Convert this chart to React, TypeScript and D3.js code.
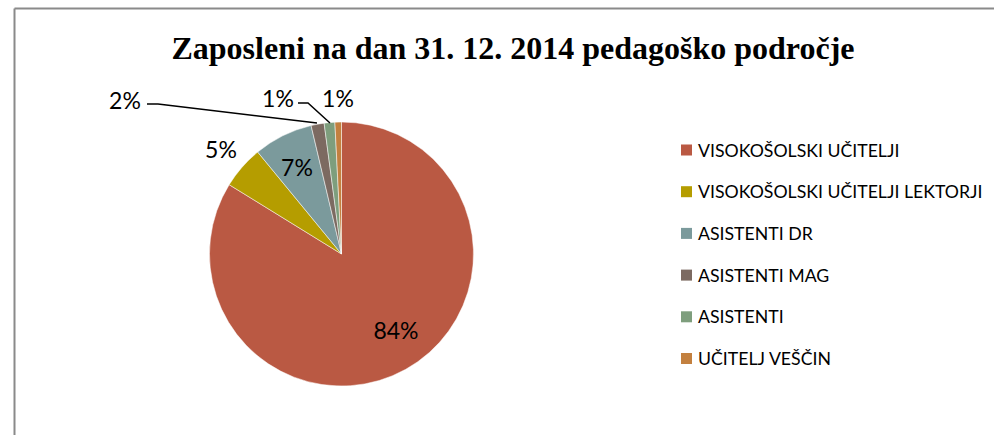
import React from "react";
import * as d3 from "d3";

const categories = [
  "VISOKOŠOLSKI UČITELJI",
  "VISOKOŠOLSKI UČITELJI LEKTORJI",
  "ASISTENTI DR",
  "ASISTENTI MAG",
  "ASISTENTI",
  "UČITELJ VEŠČIN",
];
const values = [83.8, 5.25, 7.25, 1.6, 1.3, 0.8];
const labels = ["84%", "5%", "7%", "2%", "1%", "1%"];
const colors = ["#BA5943", "#B59D00", "#7B9A9C", "#7C6A61", "#7E9E7D", "#C3803F"];
const title = "Zaposleni na dan 31. 12. 2014 pedagoško področje";

const W = 994, H = 435;
const cx = 341.5, cy = 254, R = 132;

const labelPos: [number, number][] = [
  [396, 330],
  [221, 149],
  [297, 167],
  [125, 100],
  [278, 98],
  [338, 98],
];

export default function App() {
  const pie = d3.pie<number>().sort(null).value((d) => d)(values);
  const arc = d3.arc<d3.PieArcDatum<number>>().innerRadius(0).outerRadius(R);
  const lblFont = "Lato, 'Open Sans', sans-serif";
  return (
    <div style={{ position: "absolute", left: 0, top: 0 }}>
      <svg width={W} height={H} style={{ display: "block", background: "#fff" }}>
        <line x1={14.5} y1={8.5} x2={W} y2={8.5} stroke="#8a8a8a" strokeWidth={2} />
        <line x1={14.5} y1={8.5} x2={14.5} y2={H} stroke="#8a8a8a" strokeWidth={2} />
        <text
          x={513}
          y={59}
          textAnchor="middle"
          fontFamily="'Liberation Serif', 'Times New Roman', serif"
          fontWeight="bold"
          fontSize={32}
          fill="#000"
        >
          {title}
        </text>
        <g transform={`translate(${cx},${cy})`}>
          {pie.map((d, i) => (
            <path key={i} d={arc(d) || ""} fill={colors[i]} stroke="#fff" strokeWidth={0.5} />
          ))}
        </g>
        <polyline points="147,104 158,104 317,123" fill="none" stroke="#000" strokeWidth={1.5} />
        <polyline points="298,103 308,103 330,123" fill="none" stroke="#000" strokeWidth={1.5} />
        {labels.map((l, i) => (
          <text
            key={i}
            x={labelPos[i][0]}
            y={labelPos[i][1]}
            textAnchor="middle"
            dominantBaseline="central"
            fontFamily={lblFont}
            fontSize={23}
            fill="#000"
          >
            {l}
          </text>
        ))}
        {categories.map((c, i) => (
          <g key={i} transform={`translate(681,${150 + i * 41.7})`}>
            <rect x={0} y={-5.5} width={11} height={11} fill={colors[i]} />
            <text
              x={17}
              y={0}
              dominantBaseline="central"
              fontFamily={lblFont}
              fontSize={17.7}
              fill="#000"
            >
              {c}
            </text>
          </g>
        ))}
      </svg>
    </div>
  );
}
